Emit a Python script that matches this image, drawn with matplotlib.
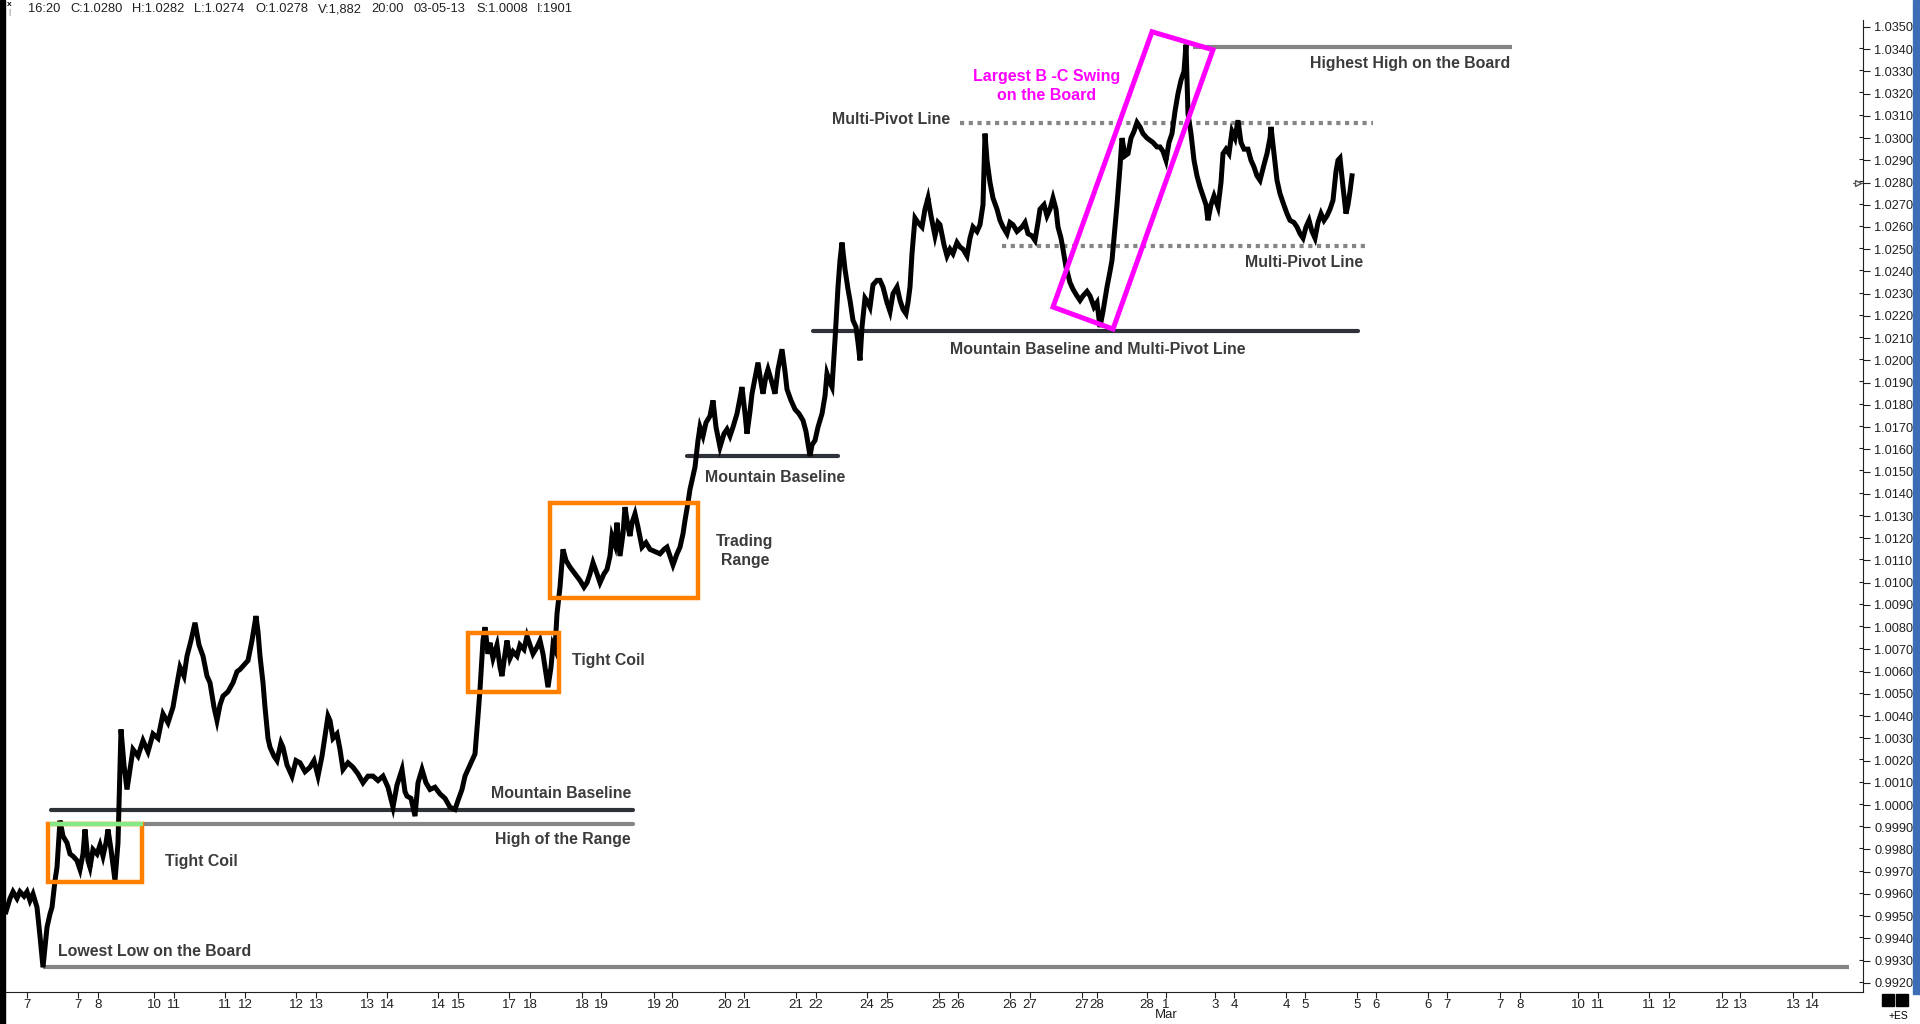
import matplotlib
matplotlib.use("Agg")
import matplotlib.pyplot as plt
from matplotlib.patches import Polygon, Rectangle

# price path (bar position, price)
bars = [6, 10, 13, 17, 20, 24, 27, 30, 33, 37, 40, 43, 45, 47, 50, 52, 55, 57, 60, 63,
        67, 70, 73, 77, 80, 83, 85, 88, 90, 93, 97, 100, 103, 106, 108, 111, 115, 118, 121, 124,
        127, 130, 133, 138, 143, 148, 153, 158, 163, 168, 173, 176, 180, 184, 187, 191, 195, 199, 203, 207,
        210, 214, 217, 220, 223, 228, 233, 237, 240, 244, 248, 252, 256, 258, 260, 263, 265, 268, 270, 274,
        277, 281, 283, 287, 292, 296, 300, 305, 310, 314, 318, 322, 325, 328, 330, 333, 337, 340, 343, 348,
        353, 358, 363, 368, 373, 378, 383, 388, 393, 397, 402, 405, 407, 411, 415, 418, 422, 426, 430, 435,
        440, 445, 450, 455, 458, 462, 465, 468, 472, 475, 478, 480, 483, 485, 488, 490, 493, 497, 500, 502,
        505, 507, 510, 513, 517, 520, 524, 527, 530, 533, 537, 540, 543, 545, 548, 551, 553, 555, 557, 560,
        563, 566, 570, 575, 580, 584, 587, 590, 593, 597, 600, 604, 607, 610, 612, 615, 617, 620, 623, 625,
        628, 630, 632, 635, 638, 642, 646, 650, 655, 660, 664, 667, 670, 673, 677, 680, 683, 685, 688, 690,
        693, 695, 698, 700, 703, 706, 710, 713, 716, 720, 724, 727, 730, 733, 737, 740, 742, 745, 747, 750,
        752, 755, 758, 761, 763, 766, 768, 772, 775, 778, 782, 785, 787, 791, 795, 799, 803, 806, 810, 812,
        815, 818, 822, 825, 827, 830, 832, 835, 838, 840, 842, 845, 848, 850, 853, 856, 858, 860, 862, 865,
        868, 870, 873, 877, 880, 883, 887, 890, 893, 897, 900, 903, 906, 908, 910, 912, 915, 918, 922, 925,
        928, 931, 935, 938, 940, 944, 947, 950, 953, 957, 960, 963, 967, 970, 973, 977, 980, 983, 985, 987,
        990, 993, 997, 1000, 1003, 1007, 1010, 1013, 1017, 1022, 1025, 1028, 1032, 1035, 1038, 1040, 1044, 1047, 1050, 1053,
        1056, 1058, 1061, 1063, 1066, 1070, 1073, 1077, 1080, 1083, 1087, 1090, 1094, 1097, 1100, 1103, 1107, 1110, 1112, 1115,
        1117, 1120, 1122, 1125, 1128, 1131, 1134, 1137, 1140, 1143, 1147, 1150, 1153, 1157, 1160, 1163, 1166, 1169, 1172, 1175,
        1178, 1181, 1184, 1186, 1188, 1191, 1194, 1197, 1200, 1203, 1206, 1208, 1211, 1214, 1218, 1221, 1223, 1226, 1229, 1232,
        1235, 1238, 1241, 1244, 1248, 1251, 1254, 1257, 1260, 1264, 1267, 1270, 1271, 1274, 1277, 1280, 1283, 1287, 1290, 1294,
        1297, 1300, 1303, 1306, 1309, 1312, 1315, 1318, 1321, 1324, 1327, 1330, 1333, 1336, 1338, 1340, 1343, 1346, 1348, 1350,
        1352]
price = [0.9952, 0.9958, 0.9961, 0.9958, 0.9961, 0.9959, 0.9961, 0.9957, 0.9960, 0.9954, 0.9941, 0.9927, 0.9936, 0.9945, 0.9951, 0.9954, 0.9966, 0.9972, 0.9993, 0.9986,
         0.9983, 0.9978, 0.9977, 0.9975, 0.9971, 0.9978, 0.9989, 0.9975, 0.9972, 0.9980, 0.9978, 0.9982, 0.9977, 0.9983, 0.9989, 0.9980, 0.9966, 0.9983, 1.0034, 1.0018,
         1.0007, 1.0016, 1.0025, 1.0022, 1.0029, 1.0024, 1.0032, 1.0030, 1.0041, 1.0037, 1.0044, 1.0052, 1.0062, 1.0058, 1.0067, 1.0074, 1.0082, 1.0072, 1.0067, 1.0058,
         1.0055, 1.0044, 1.0038, 1.0045, 1.0049, 1.0051, 1.0055, 1.0060, 1.0061, 1.0063, 1.0065, 1.0074, 1.0085, 1.0078, 1.0067, 1.0055, 1.0044, 1.0030, 1.0026, 1.0022,
         1.0020, 1.0028, 1.0026, 1.0018, 1.0013, 1.0020, 1.0019, 1.0015, 1.0017, 1.0020, 1.0013, 1.0022, 1.0031, 1.0040, 1.0038, 1.0030, 1.0032, 1.0025, 1.0016, 1.0019,
         1.0017, 1.0014, 1.0010, 1.0013, 1.0013, 1.0011, 1.0013, 1.0008, 0.9999, 1.0009, 1.0016, 1.0006, 1.0004, 1.0003, 0.9995, 1.0010, 1.0016, 1.0010, 1.0007, 1.0008,
         1.0005, 1.0003, 0.9999, 0.9998, 1.0002, 1.0007, 1.0013, 1.0016, 1.0020, 1.0023, 1.0040, 1.0052, 1.0074, 1.0080, 1.0068, 1.0073, 1.0066, 1.0072, 1.0062, 1.0058,
         1.0068, 1.0074, 1.0066, 1.0069, 1.0067, 1.0072, 1.0070, 1.0076, 1.0072, 1.0068, 1.0071, 1.0074, 1.0068, 1.0062, 1.0053, 1.0062, 1.0072, 1.0070, 1.0086, 1.0098,
         1.0115, 1.0110, 1.0107, 1.0104, 1.0101, 1.0098, 1.0100, 1.0104, 1.0109, 1.0104, 1.0100, 1.0104, 1.0106, 1.0112, 1.0121, 1.0117, 1.0127, 1.0112, 1.0122, 1.0134,
         1.0125, 1.0121, 1.0127, 1.0131, 1.0125, 1.0116, 1.0118, 1.0115, 1.0114, 1.0113, 1.0115, 1.0116, 1.0112, 1.0108, 1.0113, 1.0116, 1.0122, 1.0128, 1.0136, 1.0142,
         1.0148, 1.0152, 1.0164, 1.0170, 1.0166, 1.0172, 1.0175, 1.0182, 1.0170, 1.0161, 1.0167, 1.0169, 1.0166, 1.0170, 1.0176, 1.0183, 1.0188, 1.0176, 1.0167, 1.0177,
         1.0185, 1.0192, 1.0199, 1.0190, 1.0185, 1.0193, 1.0196, 1.0190, 1.0185, 1.0196, 1.0205, 1.0195, 1.0187, 1.0182, 1.0178, 1.0176, 1.0173, 1.0168, 1.0157, 1.0162,
         1.0164, 1.0170, 1.0176, 1.0184, 1.0194, 1.0190, 1.0188, 1.0209, 1.0233, 1.0245, 1.0253, 1.0241, 1.0232, 1.0227, 1.0218, 1.0215, 1.0208, 1.0200, 1.0215, 1.0228,
         1.0226, 1.0224, 1.0234, 1.0236, 1.0236, 1.0233, 1.0226, 1.0222, 1.0230, 1.0233, 1.0227, 1.0223, 1.0221, 1.0226, 1.0233, 1.0248, 1.0264, 1.0262, 1.0260, 1.0268,
         1.0273, 1.0265, 1.0256, 1.0262, 1.0261, 1.0252, 1.0247, 1.0250, 1.0248, 1.0253, 1.0251, 1.0250, 1.0247, 1.0255, 1.0260, 1.0258, 1.0261, 1.0270, 1.0302, 1.0290,
         1.0280, 1.0273, 1.0268, 1.0263, 1.0260, 1.0257, 1.0262, 1.0261, 1.0258, 1.0260, 1.0262, 1.0257, 1.0256, 1.0254, 1.0262, 1.0268, 1.0270, 1.0265, 1.0268, 1.0273,
         1.0268, 1.0260, 1.0255, 1.0250, 1.0242, 1.0235, 1.0232, 1.0229, 1.0227, 1.0229, 1.0231, 1.0229, 1.0224, 1.0226, 1.0215, 1.0222, 1.0233, 1.0240, 1.0245, 1.0260,
         1.0270, 1.0287, 1.0300, 1.0292, 1.0293, 1.0300, 1.0303, 1.0307, 1.0305, 1.0302, 1.0300, 1.0299, 1.0298, 1.0296, 1.0296, 1.0294, 1.0290, 1.0298, 1.0302, 1.0312,
         1.0320, 1.0326, 1.0330, 1.0342, 1.0311, 1.0302, 1.0290, 1.0283, 1.0278, 1.0274, 1.0270, 1.0263, 1.0270, 1.0274, 1.0269, 1.0280, 1.0293, 1.0295, 1.0293, 1.0303,
         1.0300, 1.0308, 1.0298, 1.0295, 1.0295, 1.0290, 1.0287, 1.0283, 1.0281, 1.0288, 1.0293, 1.0300, 1.0305, 1.0293, 1.0281, 1.0275, 1.0271, 1.0266, 1.0263, 1.0262,
         1.0260, 1.0257, 1.0255, 1.0260, 1.0263, 1.0258, 1.0255, 1.0262, 1.0266, 1.0263, 1.0265, 1.0268, 1.0272, 1.0285, 1.0290, 1.0291, 1.0278, 1.0266, 1.0270, 1.0276,
         1.0283]

# x axis: day labels at their bar positions
day_ticks = [27, 78, 98, 154, 174, 225, 245, 296, 316, 367, 387, 438, 458, 509, 530, 582, 601,
             654, 672, 725, 744, 796, 816, 867, 887, 939, 958, 1010, 1030, 1082, 1097, 1147, 1166,
             1215, 1234, 1286, 1305, 1357, 1376, 1428, 1447, 1500, 1520, 1578, 1598, 1649, 1669,
             1722, 1740, 1793, 1812]
day_labels = ['7', '7', '8', '10', '11', '11', '12', '12', '13', '13', '14', '14', '15', '17', '18',
              '18', '19', '19', '20', '20', '21', '21', '22', '24', '25', '25', '26', '26', '27',
              '27', '28', '28', '1', '3', '4', '4', '5', '5', '6', '6', '7', '7', '8', '10', '11',
              '11', '12', '12', '13', '13', '14']

header_items = ['16:20', 'C:1.0280', 'H:1.0282', 'L:1.0274', 'O:1.0278', 'V:1,882',
                '20:00', '03-05-13', 'S:1.0008', 'I:1901']
header_x = [28, 70, 132, 194, 255, 318, 371, 413, 476, 537]

TXT = '#3b3b3b'
DARK = '#2e3238'
GREY = '#858585'
ORANGE = '#ff8000'
MAGENTA = '#ff00ff'
NARROW = ['Liberation Sans Narrow', 'Liberation Sans']

plt.rcParams['font.family'] = ['Liberation Sans', 'DejaVu Sans']

fig = plt.figure(figsize=(19.2, 10.24), dpi=100)
fig.patch.set_facecolor('white')
ax = fig.add_axes((6 / 1920, 32 / 1024, 1857 / 1920, 972 / 1024))
ax.set_xlim(6, 1863)
ax.set_ylim(0.99159, 1.03531)

# window frame strips
fig.patches.append(Rectangle((0, 0), 5 / 1920, 1, transform=fig.transFigure, color='black', zorder=0))
fig.patches.append(Rectangle((1913 / 1920, 30 / 1024), 7 / 1920, 994 / 1024, transform=fig.transFigure,
                             color='#3d6db4', zorder=0))

# horizontal reference lines
ax.plot([43, 1849], [0.99273, 0.99273], color=GREY, lw=3, solid_capstyle='butt', zorder=2)
ax.plot([143, 633], [0.99915, 0.99915], color=GREY, lw=3, solid_capstyle='round', zorder=2)
ax.plot([50, 143], [0.99915, 0.99915], color='#86e886', lw=3.2, solid_capstyle='butt', zorder=4)
ax.plot([51, 633], [0.99978, 0.99978], color=DARK, lw=3, solid_capstyle='round', zorder=2)
ax.plot([687, 838], [1.01572, 1.01572], color=DARK, lw=3, solid_capstyle='round', zorder=2)
ax.plot([813, 1358], [1.02132, 1.02132], color=DARK, lw=3, solid_capstyle='round', zorder=2)
ax.plot([1193, 1512], [1.03408, 1.03408], color=GREY, lw=3, solid_capstyle='butt', zorder=2)
ax.plot([960, 1373], [1.03068, 1.03068], color=GREY, lw=3, linestyle=(0, (1.0, 1.1)), zorder=2)
ax.plot([1002, 1366], [1.02516, 1.02516], color=GREY, lw=3, linestyle=(0, (1.0, 1.1)), zorder=2)

# the price itself
ax.plot(bars, price, color='black', lw=3.6, solid_joinstyle='miter', zorder=3)

# orange boxes
for x0, x1, y0, y1 in [(48, 142, 0.99654, 0.99915), (468, 559, 1.00509, 1.00774), (550, 698, 1.00931, 1.01359)]:
    ax.add_patch(Rectangle((x0, y0), x1 - x0, y1 - y0, fill=False, edgecolor=ORANGE, lw=3.2, zorder=3.5))

# magenta swing box
ax.add_patch(Polygon([(1152, 1.03478), (1213, 1.03397), (1113, 1.02141), (1053, 1.02240)],
                     closed=True, fill=False, edgecolor=MAGENTA, lw=3.6, zorder=3.5))

lab = dict(color=TXT, fontsize=11.4, fontweight='bold', va='center')
ax.text(165, 0.99744, 'Tight Coil', ha='left', **lab)
ax.text(58, 0.99339, 'Lowest Low on the Board', ha='left', **lab)
ax.text(631, 1.00050, 'Mountain Baseline', ha='right', **lab)
ax.text(631, 0.99847, 'High of the Range', ha='right', **lab)
ax.text(572, 1.00648, 'Tight Coil', ha='left', **lab)
ax.text(745, 1.01143, 'Trading\nRange', ha='center', linespacing=1.4, **lab)
ax.text(705, 1.01475, 'Mountain Baseline', ha='left', **lab)
ax.text(1098, 1.02051, 'Mountain Baseline and Multi-Pivot Line', ha='center', **lab)
ax.text(950, 1.03082, 'Multi-Pivot Line', ha='right', **lab)
ax.text(1363, 1.02438, 'Multi-Pivot Line', ha='right', **lab)
ax.text(1510, 1.03334, 'Highest High on the Board', ha='right', **lab)
ax.text(1047, 1.03233, 'Largest B -C Swing\non the Board', ha='center', linespacing=1.35,
        color=MAGENTA, fontsize=11.5, fontweight='bold', va='center')

# axes styling
for side in ['top', 'left']:
    ax.spines[side].set_visible(False)
ax.spines['bottom'].set_color('#202020')
ax.spines['right'].set_color('#202020')
ax.yaxis.tick_right()
ax.set_yticks([0.9920 + 0.001 * i for i in range(44)])
ax.set_yticklabels(['%.4f' % (0.9920 + 0.001 * i) for i in range(44)])
ax.set_yticks([0.99205 + 0.001 * i for i in range(43)], minor=True)
ax.tick_params(axis='y', which='major', length=5, width=0.8, colors='#202020', labelsize=9.2, pad=3)
ax.tick_params(axis='y', which='minor', length=3, width=0.8, colors='#202020', direction='in')
ax.set_xticks(day_ticks)
ax.set_xticklabels(day_labels, family=NARROW)
ax.tick_params(axis='x', length=4, width=0.8, colors='#202020', labelsize=9.5, pad=1)
ax.text(1166, -0.024, 'Mar', transform=ax.get_xaxis_transform(), ha='center', va='center',
        fontsize=9.5, family=NARROW, color='#202020')

# current price marker on the scale
ax.plot([1853, 1863], [1.0280, 1.0280], color='#555555', lw=0.8, clip_on=False)
ax.plot([1858], [1.0280], marker='>', markersize=5, markerfacecolor='white',
        markeredgecolor='#555555', clip_on=False)

# header line
fig.text(9 / 1920, 1 - 4 / 1024, 'x', fontsize=6, fontweight='bold', ha='center', va='center')
fig.text(9 / 1920, 1 - 12 / 1024, '|', fontsize=6, color='#666666', ha='center', va='center')
for s, x in zip(header_items, header_x):
    fig.text(x / 1920, 1 - 9 / 1024, s, fontsize=9.3, family=NARROW, color='#202020', ha='left', va='center')

# corner squares
for x in [1882, 1896]:
    fig.patches.append(Rectangle((x / 1920, 1 - 1006 / 1024), 12 / 1920, 12 / 1024,
                                 transform=fig.transFigure, color='black'))
fig.text(1898 / 1920, 1 - 1016 / 1024, '+ES', fontsize=7.5, family=NARROW, ha='center', va='center')

fig.savefig('out.png', dpi=100, facecolor='white')
